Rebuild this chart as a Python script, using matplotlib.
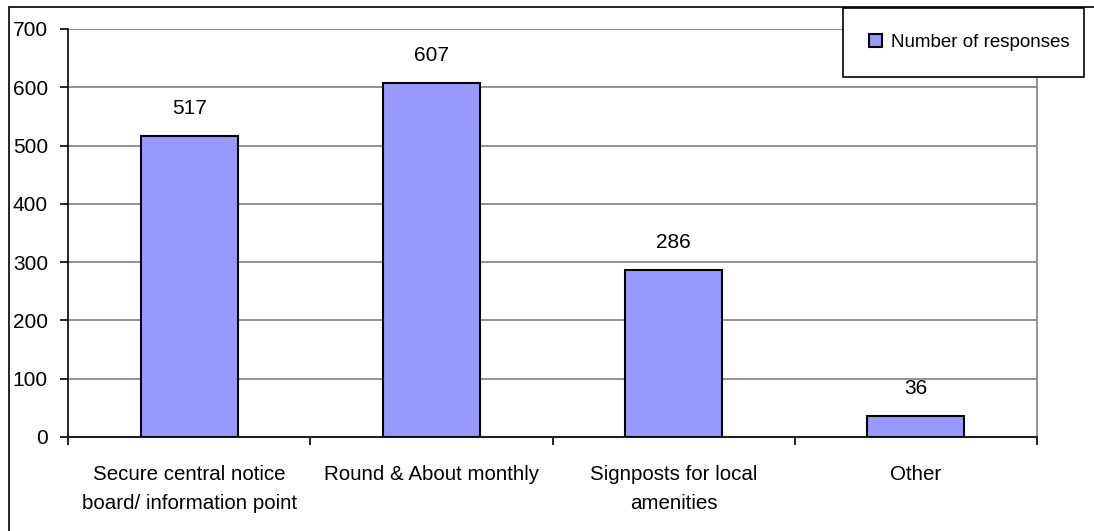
import matplotlib
matplotlib.use("Agg")
import matplotlib.pyplot as plt
from matplotlib.patches import Rectangle

categories = ["Secure central notice\nboard/ information point",
              "Round & About monthly",
              "Signposts for local\namenities",
              "Other"]
values = [517, 607, 286, 36]
yticks = [0, 100, 200, 300, 400, 500, 600, 700]
series_name = "Number of responses"

plt.rcParams['font.family'] = ['Liberation Sans', 'DejaVu Sans']

W, H = 1094, 531
fig = plt.figure(figsize=(W / 100, H / 100), dpi=100)
ax = fig.add_axes([68 / W, 1 - 437 / H, (1037 - 68) / W, (437 - 29) / H])

x = list(range(len(categories)))
bars = ax.bar(x, values, width=0.4, color="#9999FF", edgecolor="black",
              linewidth=1.5, zorder=3, label=series_name)
for xi, v in zip(x, values):
    ax.annotate(str(v), (xi, v), xytext=(0, 13), textcoords="offset points",
                ha="center", va="bottom", fontsize=15, color="black")

ax.set_xlim(-0.5, len(categories) - 0.5)
ax.set_ylim(0, 700)
ax.set_yticks(yticks)
ax.set_yticklabels([str(t) for t in yticks], fontsize=15)
ax.yaxis.grid(True, color="#808080", linewidth=1.2, zorder=0)
ax.set_axisbelow(True)

ax.set_xticks(x)
ax.set_xticklabels(categories, fontsize=14.8, linespacing=1.65)
ax.tick_params(axis="x", length=0, pad=20)
ax.set_xticks([i - 0.5 for i in range(len(categories) + 1)], minor=True)
ax.tick_params(axis="x", which="minor", length=5.8, width=1.2, color="black")
ax.tick_params(axis="y", length=5.8, width=1.2, color="black", pad=8.6)

ax.spines["left"].set_color("black")
ax.spines["left"].set_linewidth(1.2)
ax.spines["bottom"].set_color("#202020")
ax.spines["bottom"].set_linewidth(1.5)
ax.spines["top"].set_visible(False)
ax.spines["right"].set_color("#808080")
ax.spines["right"].set_linewidth(1.2)

# outer chart border
fig.patches.append(Rectangle((9 / W, -0.1), 1.2, 1 - 7 / H + 0.1,
                             transform=fig.transFigure, fill=False,
                             edgecolor="black", linewidth=1.2, zorder=0))

leg = fig.legend(handles=[bars], labels=[series_name],
                 bbox_to_anchor=(843 / W, 1 - 77 / H, (1084 - 843) / W, 69 / H),
                 loc="center", mode="expand", fontsize=13.5,
                 borderpad=1.4, handlelength=0.7, handleheight=0.7,
                 handletextpad=0.45, fancybox=False, shadow=False,
                 framealpha=1, borderaxespad=0)
leg.get_frame().set_edgecolor("black")
leg.get_frame().set_linewidth(1.2)
leg.set_zorder(10)

fig.savefig("out.png", dpi=100)
